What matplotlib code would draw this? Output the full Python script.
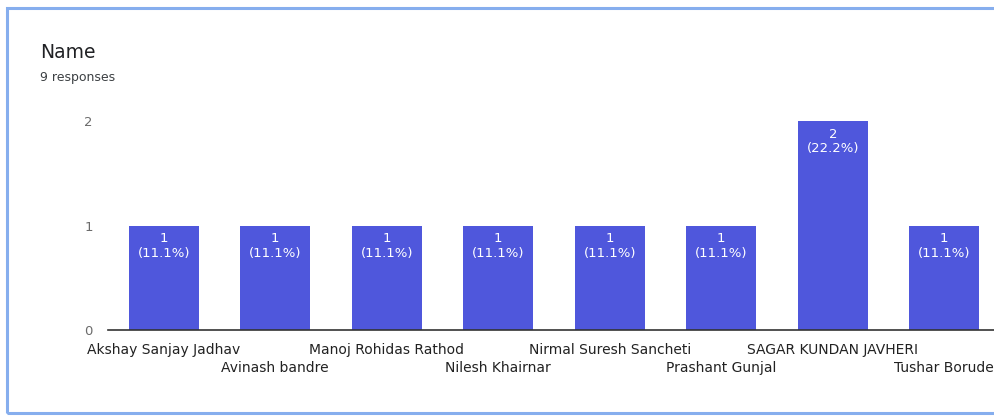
import matplotlib.pyplot as plt
from matplotlib.patches import Rectangle

plt.rcParams['font.family'] = ['DejaVu Sans']

# responses per name (Google Forms summary)
names = ["Akshay Sanjay Jadhav", "Avinash bandre", "Manoj Rohidas Rathod",
         "Nilesh Khairnar", "Nirmal Suresh Sancheti", "Prashant Gunjal",
         "SAGAR KUNDAN JAVHERI", "Tushar Borude"]
counts = [1, 1, 1, 1, 1, 1, 2, 1]
pct_labels = ["11.1%", "11.1%", "11.1%", "11.1%", "11.1%", "11.1%", "22.2%", "11.1%"]
yticks = [0, 1, 2]

W, H = 995, 419
fig = plt.figure(figsize=(W / 100, H / 100), dpi=100)

# card border (right edge is cut off in the screenshot)
fig.patches.append(Rectangle((7 / W, 1 - 413 / H), 1.2, (413 - 8) / H,
                             transform=fig.transFigure, fill=False,
                             edgecolor='#86aeee', linewidth=2.2))

fig.text(40 / W, 1 - 53 / H, "Name", fontsize=13.5, color='#202124', va='center')
fig.text(40 / W, 1 - 78 / H, "9 responses", fontsize=9, color='#3c4043', va='center')

ax = fig.add_axes([108 / W, 1 - 330 / H, 892 / W, 209 / H])
x = range(len(names))
ax.bar(x, counts, width=0.63, color='#4f57dc')
ax.set_xlim(-0.5, len(names) - 0.5)
ax.set_ylim(0, 2)
ax.set_yticks(yticks)
ax.tick_params(axis='y', length=0, pad=11, labelsize=9.5, labelcolor='#6b6b6b')
ax.set_xticks([])

for s in ['top', 'right', 'left']:
    ax.spines[s].set_visible(False)
ax.spines['bottom'].set_color('#333333')
ax.spines['bottom'].set_linewidth(1.2)

for i, (c, p) in enumerate(zip(counts, pct_labels)):
    ax.annotate(f"{c}\n({p})", (i, c), xytext=(0, -5), textcoords='offset points',
                ha='center', va='top', color='white', fontsize=9.5, linespacing=1.15)

for i, n in enumerate(names):
    off = -9 if i % 2 == 0 else -22
    ax.annotate(n, (i, 0), xycoords=('data', 'axes fraction'), xytext=(0, off),
                textcoords='offset points', ha='center', va='top',
                fontsize=10, color='#222222', annotation_clip=False)

fig.savefig('out.png', dpi=100)
